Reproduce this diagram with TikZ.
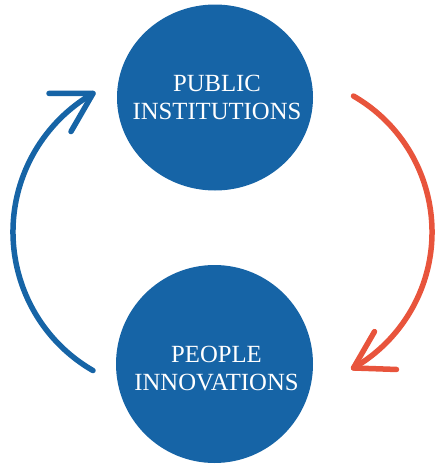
\documentclass[tikz,border=0pt]{standalone}
\usepackage{fontspec}
\setmainfont{Liberation Serif}
\usetikzlibrary{shapes.geometric}
\definecolor{cblue}{HTML}{1664A6}
\definecolor{cred}{HTML}{E8543C}
\begin{document}
\begin{tikzpicture}[x=1pt,y=-1pt,
  disc/.style={ellipse, fill=cblue, draw=none, inner sep=0pt},
  lbl/.style={text=white, inner sep=0pt, anchor=base, font=\fontsize{24.7}{28}\selectfont},
  loopline/.style={line width=5.5pt, line cap=round, line join=round}]
\useasboundingbox (0,0) rectangle (435,466);
% discs
\node[disc, minimum width=196pt, minimum height=186pt] (pub) at (215,97.5) {};
\node[disc, minimum width=197pt, minimum height=198pt] (peo) at (214.5,364) {};
% labels
\node[lbl] (pub1) at (217,91) {PUBLIC};
\node[lbl] (pub2) at (217,119) {INSTITUTIONS};
\node[lbl] (peo1) at (216.5,362) {PEOPLE};
\node[lbl] (peo2) at (216.5,390) {INNOVATIONS};
% blue arc: people -> public
\coordinate (bc) at (173,232);
\draw[loopline, cblue] (bc) ++(120:160) coordinate (bstart)
  arc[start angle=120, end angle=240, radius=160] coordinate (btip);
\draw[loopline, cblue] (btip) ++(180:44) -- (btip) -- +(120:44);
% red arc: public -> people
\coordinate (rc) at (275,232);
\draw[loopline, cred] (rc) ++(-60:157) coordinate (rstart)
  arc[start angle=-60, end angle=60, radius=157] coordinate (rtip);
\draw[loopline, cred] (rtip) ++(-60:42) -- (rtip) -- +(2:43);
\end{tikzpicture}
\end{document}
